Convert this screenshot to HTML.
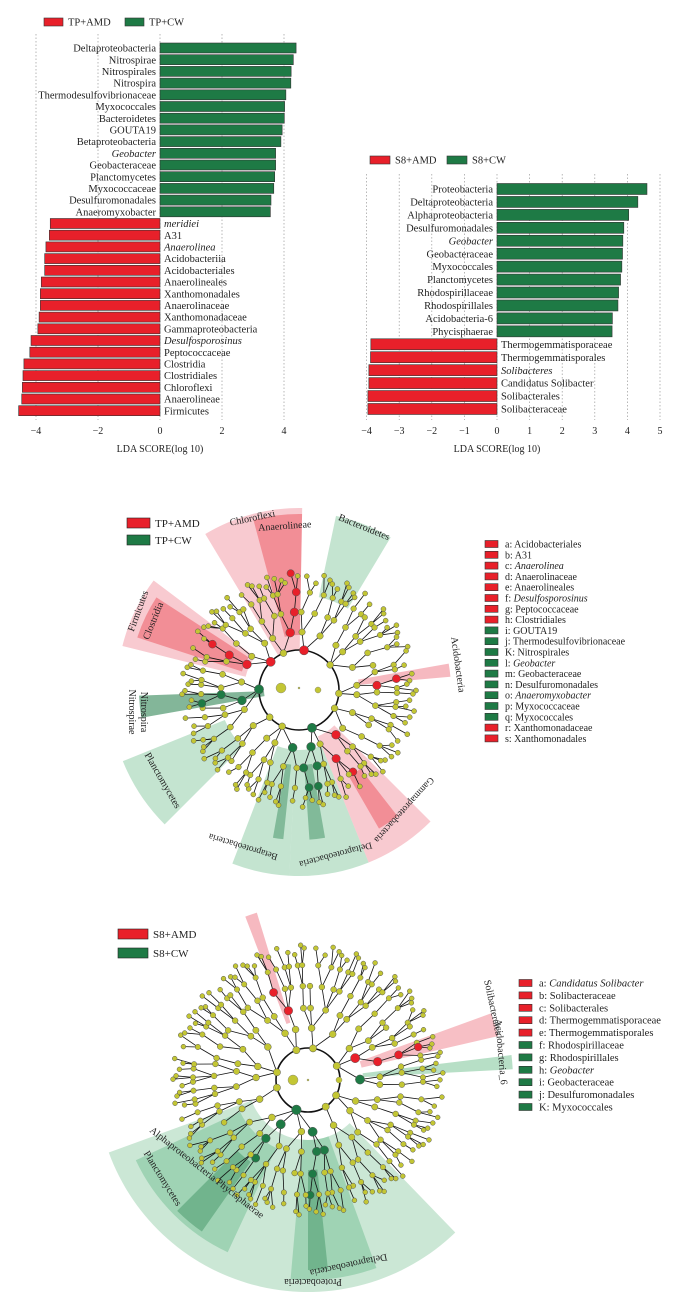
<!DOCTYPE html>
<html><head><meta charset="utf-8">
<style>
html,body{margin:0;padding:0;background:#fff;}
svg{display:block;font-family:"Liberation Serif",serif;}
</style></head>
<body>
<svg id="root" width="694" height="1316" viewBox="0 0 694 1316">
<g id="chartA"></g>
<g id="chartB"></g>
<g id="clado1"></g>
<g id="clado2"></g>
</svg>
<script>
const NS="http://www.w3.org/2000/svg";
const RED="#e8202a", GREEN="#1e7a45";
// ---- Chart A data ----
const catsA=["Deltaproteobacteria","Nitrospirae","Nitrospirales","Nitrospira","Thermodesulfovibrionaceae","Myxococcales","Bacteroidetes","GOUTA19","Betaproteobacteria","Geobacter","Geobacteraceae","Planctomycetes","Myxococcaceae","Desulfuromonadales","Anaeromyxobacter","meridiei","A31","Anaerolinea","Acidobacteriia","Acidobacteriales","Anaerolineales","Xanthomonadales","Anaerolinaceae","Xanthomonadaceae","Gammaproteobacteria","Desulfosporosinus","Peptococcaceae","Clostridia","Clostridiales","Chloroflexi","Anaerolineae","Firmicutes"];
const valsA=[4.39,4.30,4.23,4.22,4.06,4.02,4.01,3.94,3.90,3.73,3.73,3.70,3.67,3.58,3.56,-3.54,-3.57,-3.68,-3.72,-3.72,-3.83,-3.86,-3.86,-3.90,-3.94,-4.16,-4.20,-4.39,-4.42,-4.44,-4.46,-4.56];
const italA=["Geobacter","meridiei","Anaerolinea","Desulfosporosinus"];
const ticksA=[-4,-2,0,2,4];
// ---- Chart B data ----
const catsB=["Proteobacteria","Deltaproteobacteria","Alphaproteobacteria","Desulfuromonadales","Geobacter","Geobacteraceae","Myxococcales","Planctomycetes","Rhodospirillaceae","Rhodospirillales","Acidobacteria-6","Phycisphaerae","Thermogemmatisporaceae","Thermogemmatisporales","Solibacteres","Candidatus Solibacter","Solibacterales","Solibacteraceae"];
const valsB=[4.60,4.32,4.04,3.89,3.86,3.85,3.83,3.79,3.73,3.71,3.54,3.53,-3.87,-3.88,-3.93,-3.93,-3.96,-3.96];
const italB=["Geobacter","Solibacteres"];
const ticksB=[-4,-3,-2,-1,0,1,2,3,4,5];

function el(tag,attrs,parent,txt){const e=document.createElementNS(NS,tag);for(const k in attrs)e.setAttribute(k,attrs[k]);if(txt!==undefined)e.textContent=txt;parent.appendChild(e);return e;}

function barChart(g,cats,vals,ital,ticks,o){
  const x=v=>o.x0+o.unit*v;
  for(const t of ticks){
    const l=el("line",{x1:x(t),x2:x(t),y1:o.gTop,y2:o.gBot,stroke:"#999","stroke-width":0.7,"stroke-dasharray":"1.5,2"},g);
    
    
    const tl=el("text",{x:x(t),y:o.tickY,"font-size":10,"text-anchor":"middle",fill:"#222"},g,t<0?"\u2212"+(-t):String(t));
    
    
  }
  const tt=el("text",{x:x(0),y:o.titleY,"font-size":10,"text-anchor":"middle",fill:"#222"},g,"LDA SCORE(log 10)");
  
  
  cats.forEach((c,i)=>{
    const v=vals[i], yc=o.y0+i*o.step;
    const r=el("rect",{x:Math.min(x(0),x(v)),y:yc-o.bh/2,width:Math.abs(x(v)-x(0)),height:o.bh,fill:v>0?GREEN:RED,stroke:"#333","stroke-width":0.6},g);
    
    
    const t=el("text",{x:v>0?x(0)-4:x(0)+4,y:yc+3.6,"font-size":10.5,"text-anchor":v>0?"end":"start",fill:"#222","font-style":ital.includes(c)?"italic":"normal"},g,c);
    
    
  });
  o.leg.forEach((L,i)=>{
    const r=el("rect",{x:L.x,y:o.legY-4,width:L.w,height:8,fill:L.c,stroke:"#333","stroke-width":0.6},g);
    
    
    const t=el("text",{x:L.x+L.w+5,y:o.legY+3.5,"font-size":10.5,fill:"#222"},g,L.t);
    
    
  });
}
barChart(document.getElementById("chartA"),catsA,valsA,italA,ticksA,{x0:160,unit:31,y0:48,step:11.7,bh:10,gTop:34,gBot:420,tickY:434,titleY:452,legY:22,leg:[{x:44,w:19,c:RED,t:"TP+AMD"},{x:125,w:19,c:GREEN,t:"TP+CW"}]});
barChart(document.getElementById("chartB"),catsB,valsB,italB,ticksB,{x0:497,unit:32.6,y0:189,step:12.94,bh:11,gTop:174,gBot:420,tickY:434,titleY:452,legY:160,leg:[{x:370,w:20,c:RED,t:"S8+AMD"},{x:447,w:20,c:GREEN,t:"S8+CW"}]});

// ---- Cladograms ----
function pol(cx,cy,r,a){const t=a*Math.PI/180;return [cx+r*Math.cos(t),cy+r*Math.sin(t)];}
function wedge(g,cx,cy,a1,a2,r0,r1,fill,op,name){
  const p1=pol(cx,cy,r0,a1),p2=pol(cx,cy,r1,a1),p3=pol(cx,cy,r1,a2),p4=pol(cx,cy,r0,a2);
  const lg=(a2-a1)>180?1:0;
  const d=`M${p1}L${p2}A${r1},${r1} 0 ${lg} 1 ${p3}L${p4}A${r0},${r0} 0 ${lg} 0 ${p1}Z`;
  const e=el("path",{d:d,fill:fill,"fill-opacity":op},g);
  
  
}
function clado(g,cfg){
  const {cx,cy,radii,counts}=cfg;
  cfg.sectors.forEach(s=>wedge(g,cx,cy,s[0],s[1],s[2],s[3],s[4],s[5],'clade-sector'));
  const c=el("circle",{cx:cx,cy:cy,r:radii[0],fill:"none",stroke:"#111","stroke-width":1.6},g);
  
  
  const rings=[],rads=[];
  const last=counts.length-1;
  counts.forEach((n,k)=>{
    const arr=[],rr=[];
    for(let i=0;i<n;i++){
      if(k>=last-1 && ((i*7)%13)<2) continue;
      const j=((i*37)%11)/11-0.5;
      arr.push(cfg.start+360*(i+0.5+j*0.6)/n);
      rr.push(radii[k]-(k===last?((i*5)%4)*3:0));
    }
    rings.push(arr);rads.push(rr);
  });
  const lines=el("g",{stroke:"#111","stroke-width":0.8},g);
  
  
  for(let k=1;k<rings.length;k++){
    rings[k].forEach((a,i)=>{
      let best=0,bd=1e9;
      rings[k-1].forEach((b,m)=>{let d=Math.abs(((a-b+540)%360)-180);if(d<bd){bd=d;best=m;}});
      const p=pol(cx,cy,rads[k][i],a),q=pol(cx,cy,rads[k-1][best],rings[k-1][best]);
      el("line",{x1:p[0],y1:p[1],x2:q[0],y2:q[1]},lines);
    });
  }
  const hl=[];
  cfg.hl.forEach(h=>{h.rings.forEach(k=>{let best=0,bd=1e9;rings[k].forEach((a,i)=>{let d=Math.abs(((a-h.a+540)%360)-180);if(d<bd){bd=d;best=i;}});hl.push(k+":"+best+":"+h.c);});});
  rings.forEach((arr,k)=>{
    arr.forEach((a,i)=>{
      const p=pol(cx,cy,rads[k][i],a);
      let col="#c3c634",rr=cfg.sizes[k];
      const f=hl.find(s=>s.startsWith(k+":"+i+":"));
      if(f){col=f.split(":")[2];rr+=1.2;}
      const n=el("circle",{cx:p[0],cy:p[1],r:rr,fill:col,stroke:"#555","stroke-width":0.5},g);
      
      
    });
  });
  cfg.extra.forEach(e=>{const n=el("circle",{cx:e[0],cy:e[1],r:e[2],fill:"#c3c634",stroke:"#777","stroke-width":0.4},g);});
  cfg.labels.forEach(L=>{
    const t=el("text",{x:0,y:0,"font-size":L[4]||10,"text-anchor":"middle",fill:"#222",transform:`translate(${L[1]},${L[2]}) rotate(${L[3]})`},g,L[0]);
    
    
  });
  cfg.leg.forEach(L=>{
    const r=el("rect",{x:L[0],y:L[1]-5,width:L[2],height:10,fill:L[3],stroke:"#222","stroke-width":0.6},g);
    
    
    const t=el("text",{x:L[0]+L[2]+5,y:L[1]+4,"font-size":11,fill:"#222"},g,L[4]);
    
    
  });
}
const PINK="#f08a96",LG="#7cc497";
clado(document.getElementById("clado1"),{cx:299,cy:690,start:-90,
  radii:[40,58,78,98,117],counts:[10,24,44,80,130],sizes:[3.4,3.2,3,2.8,2.5],
  sectors:[[-121,-89,40,182,PINK,0.45],[-105,-89,55,176,"#e8202a",0.35],[-78,-59,95,178,LG,0.45],
    [-166,-143,55,182,PINK,0.45],[-162,-147,60,170,"#e8202a",0.35],[-10,-5,60,152,PINK,0.6],
    [170,178,35,160,"#1e7a45",0.55],[135,158,80,190,LG,0.45],[93,111,60,186,LG,0.45],[68,93,60,186,LG,0.45],[80,86,75,150,"#1e7a45",0.4],[96,100,75,150,"#1e7a45",0.4],[45,68,50,186,PINK,0.45],[52,60,100,160,"#e8202a",0.35]],
  hl:[{a:-95,rings:[0,1,2,3,4],c:RED},{a:-152,rings:[0,1,2,3],c:RED},{a:-7,rings:[2,3],c:RED},{a:174,rings:[0,1,2,3],c:GREEN},{a:-80,rings:[0],c:GREEN},{a:88,rings:[0,1,2,3],c:GREEN},{a:80,rings:[1,2,3],c:GREEN},{a:58,rings:[1,2,3],c:RED}],
  extra:[[281,688,5],[299,688,1],[318,690,3]],
  labels:[["Chloroflexi",253,521,-12],["Anaerolineae",285,529,-4],["Bacteroidetes",363,530,22],["Firmicutes",141,612,-70],["Clostridia",156,622,-68],["Acidobacteria",455,665,82],["Nitrospirae",129,712,90],["Nitrospira",141,712,90],["Planctomycetes",160,782,60],["Betaproteobacteria",244,844,197,9.5],["Deltaproteobacteria",335,852,165,9.5],["Gammaproteobacteria",402,808,132,9.5]],
  leg:[[127,523,23,RED,"TP+AMD"],[127,540,23,GREEN,"TP+CW"]]});
clado(document.getElementById("clado2"),{cx:308,cy:1080,start:-90,
  radii:[32,52,72,94,115,135],counts:[8,18,36,60,100,150],sizes:[3.6,3.4,3.1,2.9,2.7,2.4],
  sectors:[[46,160,60,212,LG,0.4],[115,155,75,190,"#3da56a",0.3],[125,135,100,185,"#1e7a45",0.35],[70,95,60,200,"#3da56a",0.3],[84,90,90,190,"#1e7a45",0.35],[-111,-107,60,175,PINK,0.6],[-20,-13,55,195,PINK,0.55],[-7,-3,55,205,LG,0.55]],
  hl:[{a:-109,rings:[2,3],c:RED},{a:-17,rings:[1,2,3,4],c:RED},{a:-5,rings:[1],c:GREEN},{a:125,rings:[0,1,2,3],c:GREEN},{a:88,rings:[0,1,2,3,4],c:GREEN},{a:78,rings:[2],c:GREEN}],
  extra:[[293,1080,5],[308,1080,1],[339,1080,3]],
  labels:[["Planctomycetes",160,1180,58],["Alphaproteobacteria  Phycisphaerae",205,1175,38],["Proteobacteria",313,1279,180],["Deltaproteobacteria",348,1262,168],["Solibacterales",490,1008,78],["Acidobacteria_6",498,1052,85]],
  leg:[[118,934,30,RED,"S8+AMD"],[118,953,30,GREEN,"S8+CW"]]});

const key1=[["a: ","Acidobacteriales",0,RED],["b: ","A31",0,RED],["c: ","Anaerolinea",1,RED],["d: ","Anaerolinaceae",0,RED],["e: ","Anaerolineales",0,RED],["f: ","Desulfosporosinus",1,RED],["g: ","Peptococcaceae",0,RED],["h: ","Clostridiales",0,RED],["i: ","GOUTA19",0,GREEN],["j: ","Thermodesulfovibrionaceae",0,GREEN],["K: ","Nitrospirales",0,GREEN],["l: ","Geobacter",1,GREEN],["m: ","Geobacteraceae",0,GREEN],["n: ","Desulfuromonadales",0,GREEN],["o: ","Anaeromyxobacter",1,GREEN],["p: ","Myxococcaceae",0,GREEN],["q: ","Myxococcales",0,GREEN],["r: ","Xanthomonadaceae",0,RED],["s: ","Xanthomonadales",0,RED]];
const key2=[["a: ","Candidatus Solibacter",1,RED],["b: ","Solibacteraceae",0,RED],["c: ","Solibacterales",0,RED],["d: ","Thermogemmatisporaceae",0,RED],["e: ","Thermogemmatisporales",0,RED],["f: ","Rhodospirillaceae",0,GREEN],["g: ","Rhodospirillales",0,GREEN],["h: ","Geobacter",1,GREEN],["i: ","Geobacteraceae",0,GREEN],["j: ","Desulfuromonadales",0,GREEN],["K: ","Myxococcales",0,GREEN]];
function keyList(g,items,x,y0,step,sw,fs){
  items.forEach((it,i)=>{
    const y=y0+i*step;
    const r=el("rect",{x:x,y:y-3.5,width:sw,height:7,fill:it[3],stroke:"#333","stroke-width":0.6},g);
    
    
    const t=el("text",{x:x+sw+7,y:y+3.5,"font-size":fs,fill:"#222"},g);
    
    
    el("tspan",{},t,it[0]);
    el("tspan",{"font-style":it[2]?"italic":"normal"},t,it[1]);
  });
}
keyList(document.getElementById("clado1"),key1,485,544,10.8,13,10);
keyList(document.getElementById("clado2"),key2,519,983,12.4,13,10.5);
</script>
</body></html>
